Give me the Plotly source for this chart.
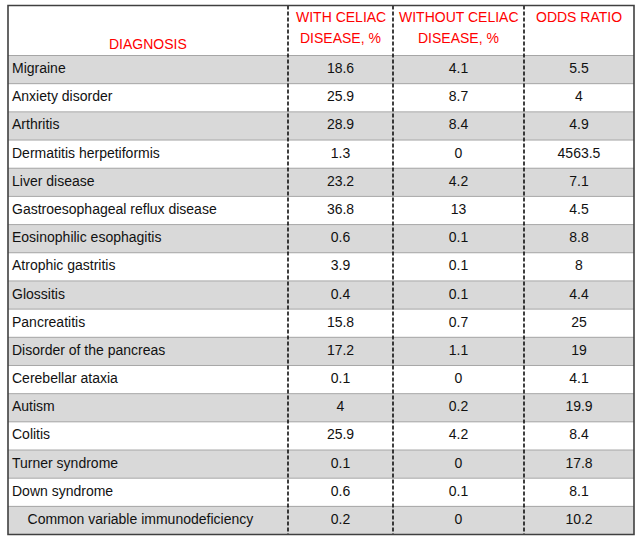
import plotly.graph_objects as go

diagnosis = ['Migraine', 'Anxiety disorder', 'Arthritis', 'Dermatitis herpetiformis',
             'Liver disease', 'Gastroesophageal reflux disease', 'Eosinophilic esophagitis',
             'Atrophic gastritis', 'Glossitis', 'Pancreatitis', 'Disorder of the pancreas',
             'Cerebellar ataxia', 'Autism', 'Colitis', 'Turner syndrome', 'Down syndrome',
             'Common variable immunodeficiency']
with_celiac = [18.6, 25.9, 28.9, 1.3, 23.2, 36.8, 0.6, 3.9, 0.4, 15.8, 17.2, 0.1, 4, 25.9, 0.1, 0.6, 0.2]
without_celiac = [4.1, 8.7, 8.4, 0, 4.2, 13, 0.1, 0.1, 0.1, 0.7, 1.1, 0, 0.2, 4.2, 0, 0.1, 0]
odds_ratio = [5.5, 4, 4.9, 4563.5, 7.1, 4.5, 8.8, 8, 4.4, 25, 19, 4.1, 19.9, 8.4, 17.8, 8.1, 10.2]
headers = ['DIAGNOSIS', 'WITH CELIAC<br>DISEASE, %', 'WITHOUT CELIAC<br>DISEASE, %', 'ODDS RATIO']

# layout geometry (x in pixels, y in row units)
col_edges = [8, 288, 393, 524, 634]
row_px = 28.18
head_bottom = 55.5
def py(px):
    return (px - head_bottom) / row_px - 0.5

font = "Liberation Sans"
fsize = 14
txt_col = '#111111'
red = '#ff0000'

# last row is indented in the original
labels = [d if d != 'Common variable immunodeficiency' else '\u00a0\u00a0\u00a0\u00a0' + d for d in diagnosis]

fig = go.Figure()

# alternating row stripes
fig.add_trace(go.Heatmap(
    z=[[1 if i % 2 == 0 else 0] for i in range(len(diagnosis))],
    x=[col_edges[0], col_edges[-1]],
    y=diagnosis,
    colorscale=[[0, 'white'], [1, '#d9d9d9']],
    showscale=False,
    hoverinfo='skip'
))

fig.add_trace(go.Scatter(
    x=[col_edges[0] + 4] * len(diagnosis), y=diagnosis, text=labels,
    mode='text', textposition='middle right',
    textfont=dict(family=font, size=fsize, color=txt_col), hoverinfo='skip'
))
for k, vals in enumerate([with_celiac, without_celiac, odds_ratio]):
    cx = (col_edges[k + 1] + col_edges[k + 2]) / 2
    fig.add_trace(go.Scatter(
        x=[cx] * len(diagnosis), y=diagnosis, text=[str(v) for v in vals],
        mode='text', textposition='middle center',
        textfont=dict(family=font, size=fsize, color=txt_col), hoverinfo='skip'
    ))

shapes = []
for i in range(len(diagnosis)):
    shapes.append(dict(type='line', x0=col_edges[0], x1=col_edges[-1], y0=i - 0.5, y1=i - 0.5,
                       line=dict(color='#a6a6a6', width=1), layer='above'))
top = py(5.5)
bottom = len(diagnosis) - 0.5
for xe in col_edges[1:-1]:
    shapes.append(dict(type='line', x0=xe, x1=xe, y0=top, y1=bottom,
                       line=dict(color='#111111', width=1.6, dash='4px,2px'), layer='above'))
shapes.append(dict(type='rect', x0=col_edges[0], x1=col_edges[-1], y0=top, y1=bottom,
                   line=dict(color='#404040', width=1.6), layer='above'))

annotations = [
    dict(text=headers[0], x=(col_edges[0] + col_edges[1]) / 2, y=py(44)),
]
for k in range(1, 4):
    cx = (col_edges[k] + col_edges[k + 1]) / 2
    for j, line in enumerate(headers[k].split('<br>')):
        annotations.append(dict(text=line, x=cx, y=py(16.5 + 21.5 * j)))
for a in annotations:
    a.update(xref='x', yref='y', showarrow=False, xanchor='center', yanchor='middle',
             font=dict(family=font, size=fsize, color=red))

fig.update_layout(
    width=640, height=541,
    margin=dict(l=0, r=0, t=0, b=0),
    paper_bgcolor='white', plot_bgcolor='white',
    showlegend=False, hovermode=False,
    xaxis=dict(visible=False, range=[0, 640], fixedrange=True),
    yaxis=dict(visible=False, range=[py(541), py(0)], type='category',
               categoryorder='array', categoryarray=diagnosis, fixedrange=True),
    shapes=shapes,
    annotations=annotations
)

# drop the default page margin so the figure sits at the window's corner
fig.write_html("out.html", config={'displayModeBar': False},
               post_script="document.body.style.margin='0';")
